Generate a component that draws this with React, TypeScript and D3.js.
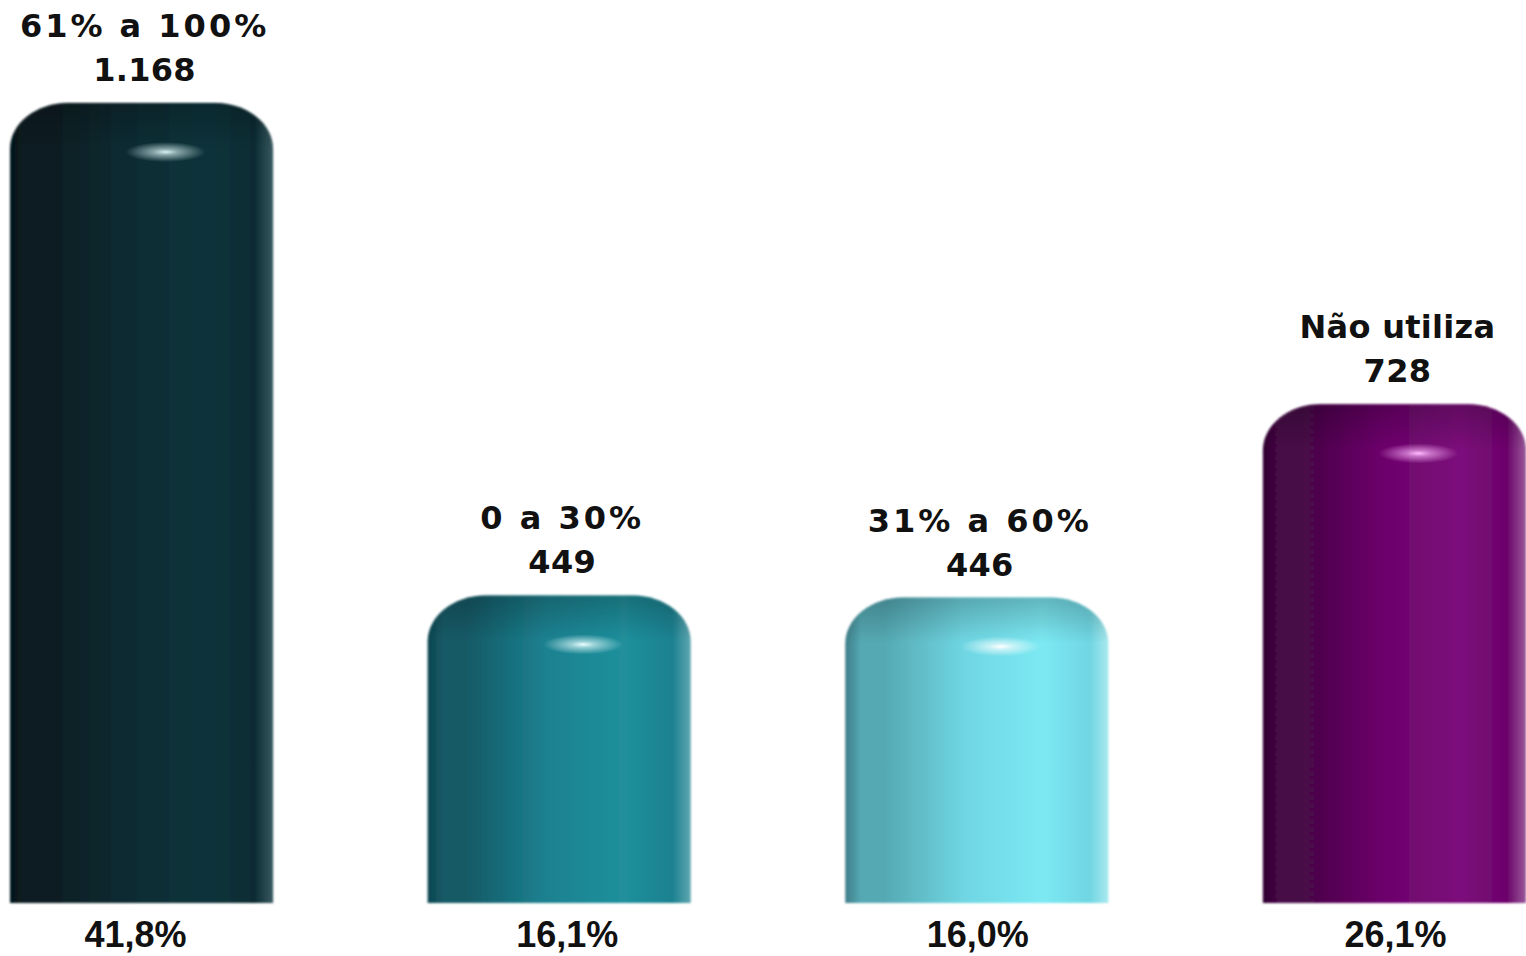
import React from "react";
import * as d3 from "d3";

const categories = ["61% a 100%", "0 a 30%", "31% a 60%", "Não utiliza"];
const counts = [1168, 449, 446, 728];
const percents = [41.8, 16.1, 16.0, 26.1];
const countLabels = ["1.168", "449", "446", "728"];
const percentLabels = ["41,8%", "16,1%", "16,0%", "26,1%"];
const palettes = [
  { edge: "#06161a", dark: "#081d22", base: "#0c2c33", light: "#0e333b", rim: "#3a5a60", hi: "#d8f2f4" },
  { edge: "#0f4550", dark: "#145a66", base: "#1c8190", light: "#20909c", rim: "#5fa7b0", hi: "#e9ffff" },
  { edge: "#3f7e88", dark: "#55a9b3", base: "#6fd6e2", light: "#7ce9f3", rim: "#a9e9ee", hi: "#ffffff" },
  { edge: "#2e0530", dark: "#470746", base: "#6c056b", light: "#7c0a7b", rim: "#9a5a9a", hi: "#ffb8ff" },
];

const W = 1526;
const H = 956;
const bottomLabelShift = [-6, 8, 1, 1];

function Label({ text, x, y }: { text: string; x: number; y: number }) {
  return (
    <text
      x={x}
      y={y}
      textAnchor="middle"
      fontFamily="'DejaVu Sans', Verdana, sans-serif"
      fontWeight="bold"
      fontSize={32}
      letterSpacing={text.includes("%") ? 3 : 0.3}
      fill="#111"
    >
      {text}
    </text>
  );
}

export default function App() {
  const x = d3.scaleBand<number>().domain(d3.range(categories.length)).range([10, 1526]).paddingInner(0.37).paddingOuter(0);
  const y = d3.scaleLinear().domain([0, 1168]).range([903, 103]);
  const bw = x.bandwidth();

  const barPath = (x0: number, top: number, w: number, bottom: number) => {
    const rx = 58;
    const ry = 46;
    const k = 0.55;
    return `M${x0},${bottom} L${x0},${top + ry} C${x0},${top + ry * (1 - k)} ${x0 + rx * (1 - k)},${top} ${x0 + rx},${top} L${x0 + w - rx},${top} C${x0 + w - rx * (1 - k)},${top} ${x0 + w},${top + ry * (1 - k)} ${x0 + w},${top + ry} L${x0 + w},${bottom} Z`;
  };

  return (
    <svg width={W} height={H} style={{ position: "absolute", left: 0, top: 0, background: "#fff" }}>
      <defs>
        <filter id="soft" x="-5%" y="-5%" width="110%" height="110%">
          <feGaussianBlur stdDeviation="1.3" />
        </filter>
        {palettes.map((p, i) => (
          <linearGradient key={"g" + i} id={"hg" + i} x1="0" x2="1" y1="0" y2="0">
            <stop offset="0" stopColor={p.edge} />
            <stop offset="0.06" stopColor={p.dark} />
            <stop offset="0.15" stopColor={p.dark} />
            <stop offset="0.45" stopColor={p.base} />
            <stop offset="0.75" stopColor={p.light} />
            <stop offset="0.93" stopColor={p.base} />
            <stop offset="1" stopColor={p.rim} />
          </linearGradient>
        ))}
        {palettes.map((p, i) => (
          <radialGradient key={"r" + i} id={"hl" + i} cx="0.5" cy="0.5" r="0.5">
            <stop offset="0" stopColor={p.hi} stopOpacity="1" />
            <stop offset="0.3" stopColor={p.hi} stopOpacity="0.6" />
            <stop offset="1" stopColor={p.hi} stopOpacity="0" />
          </radialGradient>
        ))}
      </defs>
      {counts.map((v, i) => {
        const x0 = x(i)!;
        const top = y(v);
        const bottom = y(0);
        const cx = x0 + bw / 2;
        return (
          <g key={i}>
            <defs>
              <linearGradient id={"ts" + i} gradientUnits="userSpaceOnUse" x1="0" x2="0" y1={top} y2={top + 45}>
                <stop offset="0" stopColor="#000" stopOpacity="0.22" />
                <stop offset="1" stopColor="#000" stopOpacity="0" />
              </linearGradient>
            </defs>
            <path d={barPath(x0, top, bw, bottom)} fill={`url(#hg${i})`} filter="url(#soft)" />
            <path d={barPath(x0, top, bw, bottom)} fill={`url(#ts${i})`} filter="url(#soft)" />
            <ellipse cx={cx + 24} cy={top + 49} rx={40} ry={10} fill={`url(#hl${i})`} />
            <Label text={categories[i]} x={cx + 3} y={top - 66} />
            <Label text={countLabels[i]} x={cx + 3} y={top - 22} />
            <text
              x={cx + bottomLabelShift[i]}
              y={947}
              textAnchor="middle"
              fontFamily="'Liberation Sans', Arial, sans-serif"
              fontWeight="bold"
              fontSize={36}
              fill="#111"
              data-value={percents[i]}
            >
              {percentLabels[i]}
            </text>
          </g>
        );
      })}
    </svg>
  );
}
